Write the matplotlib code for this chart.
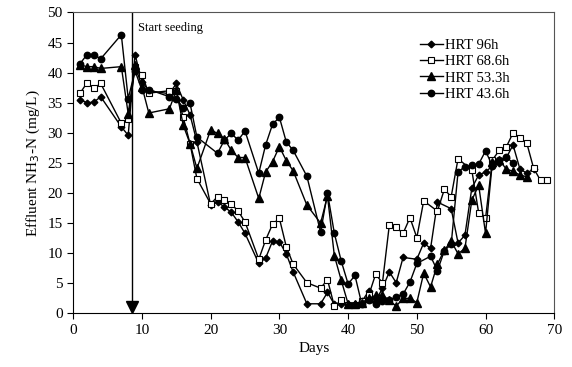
import matplotlib
matplotlib.use("Agg")
import matplotlib.pyplot as plt

plt.rcParams["font.family"] = ["Liberation Serif", "DejaVu Serif"]

# HRT 96h (diamonds)
day_96 = [1, 2, 3, 4, 7, 8, 9, 10, 11, 14, 15, 16, 17, 18, 20, 21, 22, 23, 24, 25,
          27, 28, 29, 30, 31, 32, 34, 36, 37, 38, 39, 40, 41, 42, 43, 44, 45, 46, 47,
          48, 50, 51, 52, 53, 55, 56, 57, 58, 59, 60, 61, 62, 63, 64, 65, 66, 67]
nh3_96 = [35.5, 35.0, 35.1, 36.0, 31.0, 29.6, 43.0, 38.5, 37.0, 36.5, 38.2, 35.5, 33.0, 28.5,
          18.0, 18.5, 17.7, 16.8, 15.2, 13.3, 8.3, 9.2, 12.0, 11.9, 9.9, 6.9, 1.6, 1.6, 3.5,
          1.5, 1.5, 1.5, 1.5, 2.0, 3.7, 2.0, 4.2, 6.9, 5.1, 9.3, 9.0, 11.7, 10.8, 18.5, 17.4,
          11.7, 13.0, 20.8, 23.0, 23.5, 24.5, 25.0, 25.8, 28.0, 24.0, 23.3, 24.0]

# HRT 68.6h (open squares)
day_68 = [1, 2, 3, 4, 7, 8, 9, 10, 11, 14, 15, 16, 17, 18, 20, 21, 22, 23, 24, 25,
          27, 28, 29, 30, 31, 32, 34, 36, 37, 38, 39, 40, 41, 42, 43, 44, 45, 46, 47,
          48, 49, 50, 51, 53, 54, 55, 56, 58, 59, 60, 61, 62, 63, 64, 65, 66, 67, 68, 69]
nh3_68 = [36.6, 38.3, 37.4, 38.2, 31.6, 32.3, 41.0, 39.6, 36.6, 37.0, 37.0, 32.6, 28.2, 22.4,
          18.2, 19.4, 18.9, 18.2, 17.0, 15.2, 9.0, 12.2, 14.8, 15.8, 11.1, 8.2, 5.1, 4.2, 5.6,
          1.2, 2.2, 1.4, 1.4, 2.0, 3.0, 6.5, 5.1, 14.7, 14.3, 13.3, 15.9, 12.6, 18.7, 17.0,
          20.6, 19.4, 25.7, 23.8, 16.7, 15.8, 25.5, 27.1, 27.6, 30.0, 29.2, 28.3, 24.1, 22.1, 22.1]

# HRT 53.3h (triangles)
day_53 = [1, 2, 3, 4, 7, 8, 9, 10, 11, 14, 15, 16, 17, 18, 20, 21, 22, 23, 24, 25,
          27, 28, 29, 30, 31, 32, 34, 36, 37, 38, 39, 40, 41, 42, 43, 44, 45, 46, 47,
          48, 49, 50, 51, 52, 53, 54, 55, 56, 57, 58, 59, 60, 61, 62, 63, 64, 65, 66]
nh3_53 = [41.3, 41.0, 41.0, 40.7, 41.0, 33.2, 41.2, 37.7, 33.3, 34.0, 37.1, 31.3, 28.2, 24.1,
          30.5, 29.9, 29.0, 27.1, 25.9, 25.9, 19.1, 23.5, 25.2, 27.7, 25.4, 23.7, 18.0, 15.0,
          19.5, 9.6, 5.5, 1.6, 1.6, 1.8, 2.5, 3.0, 3.0, 2.2, 1.2, 2.5, 2.5, 1.8, 6.7, 4.4,
          8.2, 10.5, 12.0, 9.9, 10.8, 18.8, 21.3, 13.3, 25.2, 25.5, 24.0, 23.6, 23.0, 22.7]

# HRT 43.6h (filled circles)
day_43 = [1, 2, 3, 4, 7, 8, 9, 10, 11, 14, 15, 16, 17, 18, 21, 22, 23, 24, 25,
          27, 28, 29, 30, 31, 32, 34, 36, 37, 38, 39, 40, 41, 42, 43, 44, 45, 46, 47,
          48, 49, 50, 52, 53, 54, 55, 56, 57, 58, 59, 60, 61, 62, 63, 64]
nh3_43 = [41.5, 43.0, 43.0, 42.3, 46.3, 35.7, 40.3, 37.1, 37.2, 36.0, 35.6, 34.2, 34.9, 29.3,
          26.6, 28.8, 29.9, 28.8, 30.3, 23.3, 28.0, 31.4, 32.6, 28.5, 27.1, 22.8, 13.5, 20.0,
          13.3, 8.7, 4.9, 6.3, 1.5, 2.2, 1.5, 2.0, 2.2, 2.8, 3.2, 5.2, 8.3, 9.5, 7.1, 10.4,
          11.5, 23.5, 24.4, 24.6, 24.8, 27.0, 24.5, 25.5, 26.0, 25.0]

seed_day = 8.6

fig = plt.figure(figsize=(5.72, 3.67), dpi=100)
ax = fig.add_axes([0.128, 0.146, 0.841, 0.820])

ax.plot(day_96, nh3_96, color="black", lw=1, marker="D", ms=3.4,
        mfc="black", mec="black", label="HRT 96h")
ax.plot(day_68, nh3_68, color="black", lw=1, marker="s", ms=4.6,
        mfc="white", mec="black", mew=0.8, label="HRT 68.6h")
ax.plot(day_53, nh3_53, color="black", lw=1, marker="^", ms=5.2,
        mfc="black", mec="black", label="HRT 53.3h")
ax.plot(day_43, nh3_43, color="black", lw=1, marker="o", ms=4.6,
        mfc="black", mec="black", label="HRT 43.6h")

# start seeding marker
ax.plot([seed_day, seed_day], [50, 1.5], color="black", lw=1)
ax.plot(seed_day, 1.0, marker="v", ms=8, color="black", clip_on=False)
ax.text(seed_day + 0.8, 47.0, "Start seeding", fontsize=9)

ax.set_xlim(0, 70)
ax.set_ylim(0, 50)
ax.set_xticks(range(0, 71, 10))
ax.set_yticks(range(0, 51, 5))
ax.tick_params(direction="out", length=4, labelsize=11)
ax.spines["top"].set_color("#555555")
ax.spines["right"].set_color("#555555")
ax.set_xlabel("Days", fontsize=11)
ax.set_ylabel("Effluent NH$_3$-N (mg/L)", fontsize=11)

ax.legend(loc="upper right", frameon=False, fontsize=10.5, handlelength=1.6,
          handletextpad=0.15, labelspacing=0.2, bbox_to_anchor=(0.935, 0.955))

fig.savefig("out.png", dpi=100)
